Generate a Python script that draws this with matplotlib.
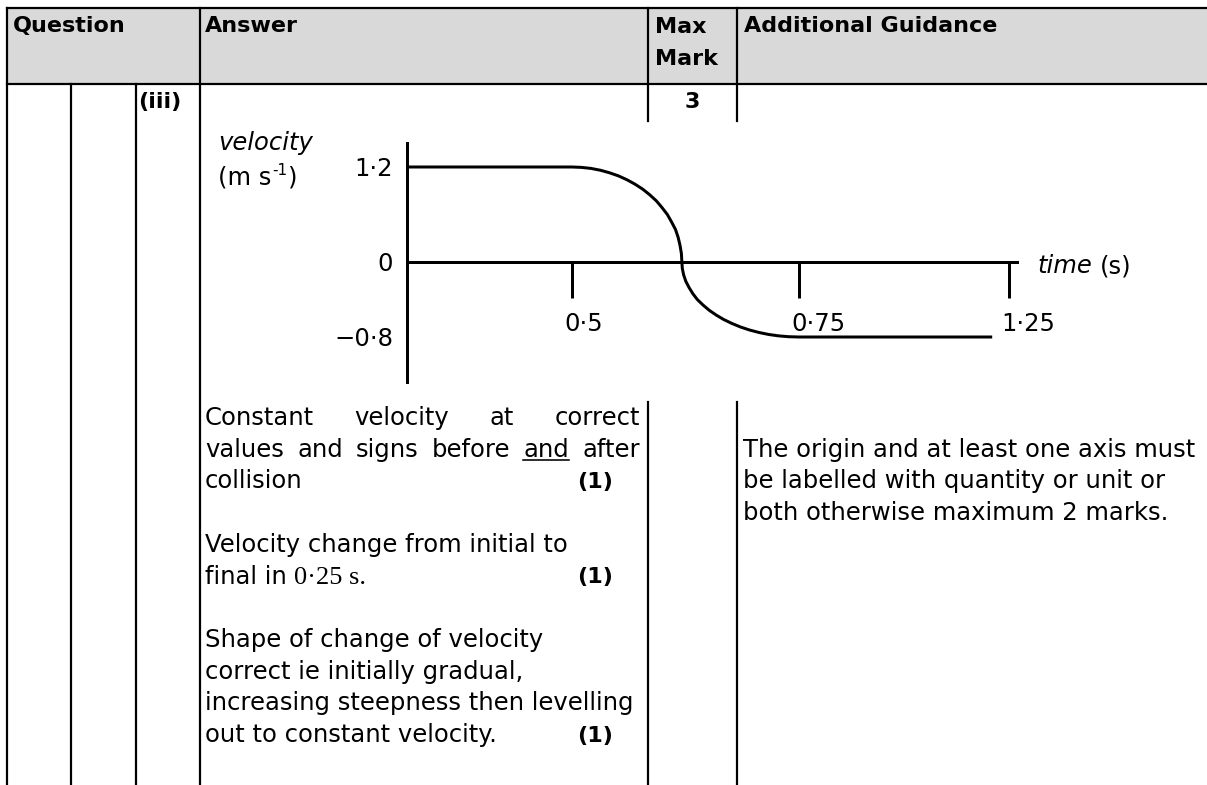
import numpy as np
import matplotlib
matplotlib.use("Agg")
import matplotlib.pyplot as plt
from matplotlib.patches import Rectangle

# ---------------- data ----------------
header_labels = ["Question", "Answer", "Max", "Mark", "Additional Guidance"]
part_label = "(iii)"
max_mark = "3"

t_ticks = [0.5, 0.75, 1.25]
t_tick_labels = ["0·5", "0·75", "1·25"]
v_levels = [1.2, 0.0, -0.8]
v_labels = ["1·2", "0", "\u22120·8"]

# sketched velocity curve (time s, velocity m/s)
curve_t = [0.0, 0.5, 0.5105, 0.521, 0.5313, 0.541, 0.5511, 0.5605, 0.5694,
           0.578, 0.5856, 0.593, 0.5991, 0.605, 0.6096, 0.614, 0.6169, 0.619,
           0.6205, 0.621, 0.6215, 0.623, 0.6254, 0.629, 0.6331, 0.638, 0.6443,
           0.651, 0.6588, 0.667, 0.676, 0.6855, 0.6954, 0.706, 0.7166, 0.7276,
           0.7388, 0.75, 1.21]
curve_v = [1.2, 1.2, 1.195, 1.182, 1.159, 1.128, 1.088, 1.039, 0.983,
           0.919, 0.849, 0.771, 0.688, 0.600, 0.507, 0.410, 0.311, 0.208,
           0.105, 0.0, -0.070, -0.139, -0.207, -0.274, -0.338, -0.400, -0.459,
           -0.514, -0.566, -0.613, -0.655, -0.693, -0.725, -0.752, -0.773, -0.788,
           -0.797, -0.8, -0.8]

answer_line1 = ["Constant", "velocity", "at", "correct"]
answer_line2 = ["values", "and", "signs", "before", "and", "after"]
answer_line3 = "collision"
answer_line4 = "Velocity change from initial to"
answer_line5a = "final in"
answer_line5b = "0·25 s."
answer_line6 = ["Shape of change of velocity",
                "correct ie initially gradual,",
                "increasing steepness then levelling",
                "out to constant velocity."]
mark_label = "(1)"
guidance_lines = ["The origin and at least one axis must",
                  "be labelled with quantity or unit or",
                  "both otherwise maximum 2 marks."]

# ---------------- layout ----------------
DPI = 100
W, H = 1207, 785
FS = 17.5
FSB = 16


def px(v):
    return v * 72.0 / DPI


fig = plt.figure(figsize=(W / DPI, H / DPI), dpi=DPI, facecolor="white")
ax = fig.add_axes([0, 0, 1, 1])
ax.set_xlim(0, W)
ax.set_ylim(H, 0)
ax.axis("off")
renderer = fig.canvas.get_renderer()

LW = px(2.2)

# header background
ax.add_patch(Rectangle((7, 8), W - 7, 76, facecolor="#d9d9d9", edgecolor="none", zorder=0))


def seg(x0, y0, x1, y1, lw=LW):
    ax.plot([x0, x1], [y0, y1], color="black", lw=lw, solid_capstyle="projecting")


seg(7, 8, W, 8)
seg(7, 84, W, 84)
seg(7, 8, 7, H)
seg(200, 8, 200, H)
seg(71, 84, 71, H)
seg(136, 84, 136, H)
for xc in (648, 737):
    seg(xc, 8, xc, 121)
    seg(xc, 402, xc, H)


def txt(x, y, s, size=FS, weight="normal", style="normal", family="DejaVu Sans", ha="left"):
    return ax.text(x, y, s, fontsize=size, fontweight=weight, fontstyle=style,
                   family=family, ha=ha, va="baseline", color="black")


def width(t):
    return t.get_window_extent(renderer).width


def measure(s, **kw):
    t = txt(300, 300, s, **kw)
    w = width(t)
    t.remove()
    return w


sp = measure("a a") - measure("aa")

# header texts
txt(13, 32, header_labels[0], FSB, "bold")
txt(205, 32, header_labels[1], FSB, "bold")
txt(655, 33, header_labels[2], FSB, "bold")
txt(655, 65, header_labels[3], FSB, "bold")
txt(744, 32, header_labels[4], FSB, "bold")

txt(138, 108, part_label, FSB, "bold")
txt(692, 108, max_mark, FSB, "bold", ha="center")

# answer text
LS = 31.7
B0 = 425


def justify(words, x0, x1, y, underline=()):
    ws = [measure(w) for w in words]
    gap = (x1 - x0 - sum(ws)) / (len(words) - 1)
    x = x0
    for i, (w_, w) in enumerate(zip(words, ws)):
        txt(x, y, w_)
        if i in underline:
            ax.plot([x, x + w], [y + 3.5, y + 3.5], color="black", lw=px(1.6))
        x += w + gap


justify(answer_line1, 205, 640, B0)
justify(answer_line2, 205, 640, B0 + LS, underline=(4,))
txt(205, B0 + 2 * LS, answer_line3)
txt(613, B0 + 2 * LS, mark_label, FSB, "bold", ha="right")
txt(205, B0 + 4 * LS, answer_line4)
w5 = measure(answer_line5a)
txt(205, B0 + 5 * LS, answer_line5a)
txt(205 + w5 + sp, B0 + 5 * LS, answer_line5b, 19, family="Liberation Serif")
txt(613, B0 + 5 * LS, mark_label, FSB, "bold", ha="right")
for i, line in enumerate(answer_line6):
    txt(205, B0 + (7 + i) * LS, line)
txt(613, B0 + 10 * LS, mark_label, FSB, "bold", ha="right")

for i, line in enumerate(guidance_lines):
    txt(743, B0 + (1 + i) * LS, line)

# graph axis labels
txt(218, 150, "velocity", style="italic")
wm = measure("(m s")
txt(218, 185, "(m s")
txt(218 + wm + 1, 175, "-1", 11)
txt(218 + wm + 1 + measure("-1", size=11) + 1, 185, ")")

# ---------------- graph ----------------
gx0, gx1, gy0, gy1 = 407, 1017, 143, 382
gax = fig.add_axes([gx0 / W, 1 - gy1 / H, (gx1 - gx0) / W, (gy1 - gy0) / H])
gax.patch.set_visible(False)

KX = [-10.0, 0.0] + t_ticks + [10.0]
PXX = [-3300.0, 0.0, 165.0, 392.0, 602.0, 602.0 + 8.75 * 420.0]
KY = [-10.0, v_levels[2], v_levels[1], v_levels[0], 10.0]
PYY = [-75.0 - 9.2 * 93.75, -75.0, 0.0, 95.0, 95.0 + 8.8 * 79.17]


def fx(t):
    return np.interp(t, KX, PXX)


def ix(p):
    return np.interp(p, PXX, KX)


def fy(v):
    return np.interp(v, KY, PYY)


def iy(p):
    return np.interp(p, PYY, KY)


gax.set_xscale("function", functions=(fx, ix))
gax.set_yscale("function", functions=(fy, iy))
gax.set_xlim(0, float(ix(610)))
gax.set_ylim(float(iy(-120)), float(iy(119)))

for s in ("top", "right"):
    gax.spines[s].set_visible(False)
gax.spines["bottom"].set_position(("data", 0))
for s in ("left", "bottom"):
    gax.spines[s].set_linewidth(px(3))
    gax.spines[s].set_color("black")

gax.set_xticks(t_ticks)
gax.set_xticks([], minor=True)
gax.set_yticks([])
gax.set_yticks([], minor=True)
gax.tick_params(axis="x", direction="out", length=px(36), width=px(3),
                color="black", labelbottom=False)

gax.plot(curve_t, curve_v, color="black", lw=px(3), clip_on=False,
         solid_joinstyle="round", solid_capstyle="butt")

for t, lab in zip(t_ticks, t_tick_labels):
    gax.annotate(lab, xy=(t, 0), xytext=(-8, -69), textcoords="offset pixels",
                 ha="left", va="baseline", fontsize=FS, family="DejaVu Sans")
for v, lab in zip(v_levels, v_labels):
    gax.annotate(lab, xy=(0, v), xytext=(-14, -9), textcoords="offset pixels",
                 ha="right", va="baseline", fontsize=FS, family="DejaVu Sans")

tw = measure("time", style="italic")
gax.annotate("time", xy=(1, 0), xycoords=("axes fraction", "data"),
             xytext=(20, -11), textcoords="offset pixels", ha="left",
             va="baseline", fontsize=FS, fontstyle="italic", family="DejaVu Sans")
gax.annotate("(s)", xy=(1, 0), xycoords=("axes fraction", "data"),
             xytext=(20 + tw + sp, -11), textcoords="offset pixels", ha="left",
             va="baseline", fontsize=FS, family="DejaVu Sans")

fig.savefig("out.png", dpi=DPI, facecolor="white")
